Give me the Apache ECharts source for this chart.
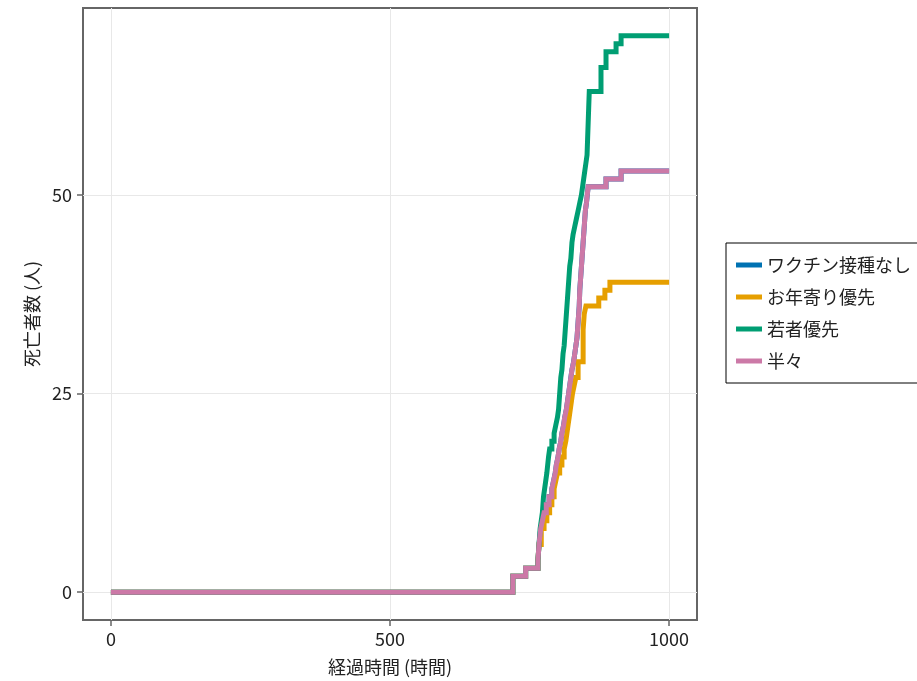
<!DOCTYPE html>
<html>
<head>
<meta charset="utf-8">
<script src="https://cdn.jsdelivr.net/npm/echarts@6/dist/echarts.min.js"></script>
<style>
html,body{margin:0;padding:0;background:#fff;}
#chart{width:917px;height:681px;}
</style>
</head>
<body>
<div id="chart"></div>
<script>
// Series names
const seriesNames = ['ワクチン接種なし', 'お年寄り優先', '若者優先', '半々'];
const seriesColors = ['#0072B2', '#E69F00', '#009E73', '#CC79A7'];

// Tick values
const xTicks = [0, 500, 1000];
const yTicks = [0, 25, 50];

// [elapsed hours, cumulative deaths] at each change
const elderlyFirst = [
  [0,0],[720,2],[743,3],[765,4],[767,6],[771,8],[776,9],[781,10],[786,11],[790,12],
  [794,13],[797,14],[800,15],[804,16],[808,17],[812,18],[815,19],[817,20],[819,21],
  [821,22],[823,23],[825,24],[827,25],[830,26],[833,27],[837,29],[846,33],[848,35],
  [851,36],[874,37],[885,38],[894,39],[1000,39]
];
const youngFirst = [
  [0,0],[720,2],[743,3],[765,4],[767,6],[769,8],[771,9],[773,10],[775,12],[777,13],
  [779,14],[781,15],[784,17],[786,18],[790,19],[794,20],[797,21],[800,22],[802,23],
  [804,25],[806,27],[808,28],[810,30],[812,31],[814,33],[816,35],[818,37],[820,39],
  [822,41],[824,42],[826,44],[828,45],[831,46],[834,47],[837,48],[840,49],[843,50],
  [845,51],[847,52],[849,53],[851,54],[853,55],[854,57],[855,59],[856,61],[857,63],
  [878,66],[887,68],[905,69],[914,70],[1000,70]
];
const half = [
  [0,0],[720,2],[743,3],[765,4],[767,6],[770,8],[773,9],[776,10],[780,11],[785,12],
  [790,13],[793,14],[796,15],[798,16],[801,17],[803,18],[806,19],[808,20],[811,21],
  [813,22],[816,23],[818,24],[820,25],[822,26],[824,27],[826,28],[829,29],[831,30],
  [833,31],[835,32],[837,34],[839,36],[840,38],[842,40],[844,42],[846,44],[848,46],
  [850,48],[852,49],[855,51],[887,52],[914,53],[1000,53]
];
// No-vaccination curve is fully hidden under the others in the reference
const noVaccine = [
  [0,0],[720,2],[743,3],[765,4],[767,6],[770,8],[773,9],[776,10],[780,11],[785,12],
  [790,13],[793,14],[796,15],[798,16],[801,17],[803,18],[806,19],[808,20],[811,21],
  [813,22],[816,23],[818,24],[820,25],[822,26],[824,27],[826,28],[829,29],[831,30],
  [833,31],[835,32],[837,34],[839,36],[840,38],[842,40],[844,42],[846,44],[848,46],
  [850,48],[852,49],[855,51],[887,52],[914,53],[1000,53]
];

const allData = [noVaccine, elderlyFirst, youngFirst, half];
const FONT = '"Noto Sans CJK JP", "Noto Sans", sans-serif';

const chart = echarts.init(document.getElementById('chart'), null, {renderer: 'canvas'});
chart.setOption({
  animation: false,
  backgroundColor: '#ffffff',
  textStyle: {fontFamily: FONT},
  grid: {left: 83, top: 8, width: 614, height: 612, show: true, borderColor: '#666', borderWidth: 2, backgroundColor: 'transparent'},
  xAxis: {
    type: 'value', min: -50, max: 1050,
    name: '経過時間 (時間)', nameLocation: 'middle', nameGap: 38,
    nameTextStyle: {fontSize: 18, color: '#222', fontFamily: FONT},
    axisLine: {show: false, onZero: false},
    axisTick: {show: true, length: 6, customValues: xTicks, lineStyle: {color: '#666', width: 1.5}},
    axisLabel: {customValues: xTicks, fontSize: 18, color: '#222', margin: 10, fontFamily: FONT,
      formatter: v => String(v)},
    splitLine: {show: true, lineStyle: {color: '#e8e8e8', width: 1}}
  },
  yAxis: {
    type: 'value', min: -3.5, max: 73.5,
    name: '死亡者数 (人)', nameLocation: 'middle', nameGap: 42, nameRotate: 90,
    nameTextStyle: {fontSize: 18, color: '#222', fontFamily: FONT},
    axisLine: {show: false, onZero: false},
    axisTick: {show: true, length: 6, customValues: yTicks, lineStyle: {color: '#666', width: 1.5}},
    axisLabel: {customValues: yTicks, fontSize: 18, color: '#222', margin: 11, fontFamily: FONT,
      formatter: v => String(v)},
    splitLine: {show: true, lineStyle: {color: '#e8e8e8', width: 1}}
  },
  legend: {
    orient: 'vertical', left: 726, top: 243,
    padding: [12, 40, 12, 10],
    borderColor: '#000', borderWidth: 1, backgroundColor: '#fff',
    itemWidth: 26, itemHeight: 5, itemGap: 12, icon: 'rect',
    textStyle: {fontSize: 18, color: '#222', lineHeight: 20, fontFamily: FONT},
    data: seriesNames
  },
  series: seriesNames.map((n, i) => ({
    name: n, type: 'line', step: 'end', data: allData[i],
    showSymbol: false, symbol: 'none',
    lineStyle: {width: 5, color: seriesColors[i], cap: 'butt', join: 'miter'},
    itemStyle: {color: seriesColors[i]},
    z: 2 + i
  }))
});
</script>
</body>
</html>
